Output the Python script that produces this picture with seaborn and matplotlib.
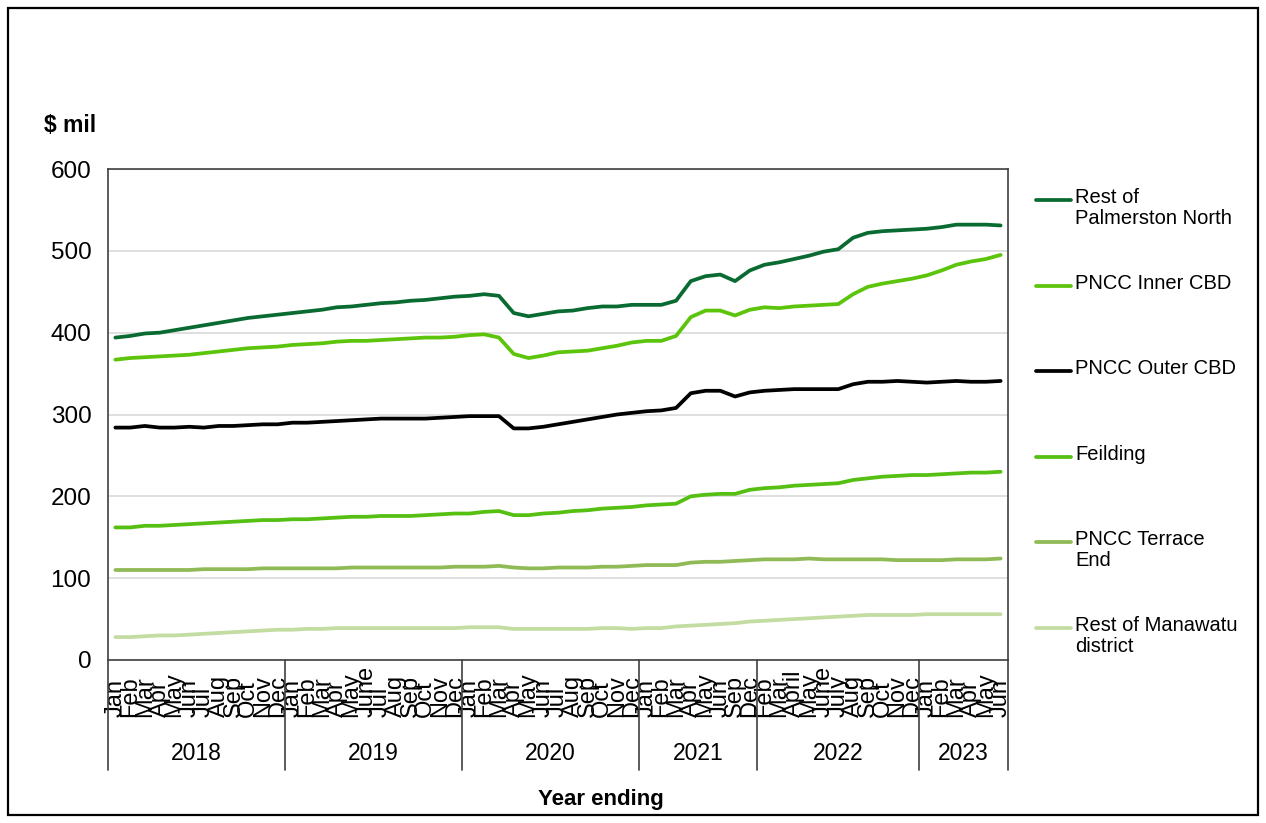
import numpy as np
import pandas as pd
import matplotlib
matplotlib.use("Agg")
import matplotlib.pyplot as plt
import matplotlib.transforms as mtransforms
from matplotlib.lines import Line2D
from matplotlib.patches import Rectangle
import seaborn as sns

# ---- category axis: year ending, month ----
year_labels = ["2018", "2019", "2020", "2021", "2022", "2023"]
months_2018 = ["Jan", "Feb", "Mar", "Apr", "May", "Jun", "Jul", "Aug", "Sep", "Oct", "Nov", "Dec"]
months_2019 = ["Jan", "Feb", "Mar", "Apr", "May", "June", "Jul", "Aug", "Sep", "Oct", "Nov", "Dec"]
months_2020 = ["Jan", "Feb", "Mar", "Apr", "May", "Jun", "Jul", "Aug", "Sep", "Oct", "Nov", "Dec"]
months_2021 = ["Jan", "Feb", "Mar", "Apr", "May", "Jun", "Sep", "Dec"]
months_2022 = ["Feb", "Mar", "April", "May", "June", "July", "Aug", "Sep", "Oct", "Nov", "Dec"]
months_2023 = ["Jan", "Feb", "Mar", "Apr", "May", "Jun"]
month_groups = [months_2018, months_2019, months_2020, months_2021, months_2022, months_2023]

# ---- series ($ mil) ----
rest_of_palmerston_north = [
    394, 396, 399, 400, 403, 406, 409, 412, 415, 418, 420, 422,
    424, 426, 428, 431, 432, 434, 436, 437, 439, 440, 442, 444,
    445, 447, 445, 424, 420, 423, 426, 427, 430, 432, 432, 434,
    434, 434, 439, 463, 469, 471, 463, 476,
    483, 486, 490, 494, 499, 502, 516, 522, 524, 525, 526,
    527, 529, 532, 532, 532, 531]
pncc_inner_cbd = [
    367, 369, 370, 371, 372, 373, 375, 377, 379, 381, 382, 383,
    385, 386, 387, 389, 390, 390, 391, 392, 393, 394, 394, 395,
    397, 398, 394, 374, 369, 372, 376, 377, 378, 381, 384, 388,
    390, 390, 396, 419, 427, 427, 421, 428,
    431, 430, 432, 433, 434, 435, 447, 456, 460, 463, 466,
    470, 476, 483, 487, 490, 495]
pncc_outer_cbd = [
    284, 284, 286, 284, 284, 285, 284, 286, 286, 287, 288, 288,
    290, 290, 291, 292, 293, 294, 295, 295, 295, 295, 296, 297,
    298, 298, 298, 283, 283, 285, 288, 291, 294, 297, 300, 302,
    304, 305, 308, 326, 329, 329, 322, 327,
    329, 330, 331, 331, 331, 331, 337, 340, 340, 341, 340,
    339, 340, 341, 340, 340, 341]
feilding = [
    162, 162, 164, 164, 165, 166, 167, 168, 169, 170, 171, 171,
    172, 172, 173, 174, 175, 175, 176, 176, 176, 177, 178, 179,
    179, 181, 182, 177, 177, 179, 180, 182, 183, 185, 186, 187,
    189, 190, 191, 200, 202, 203, 203, 208,
    210, 211, 213, 214, 215, 216, 220, 222, 224, 225, 226,
    226, 227, 228, 229, 229, 230]
pncc_terrace_end = [
    110, 110, 110, 110, 110, 110, 111, 111, 111, 111, 112, 112,
    112, 112, 112, 112, 113, 113, 113, 113, 113, 113, 113, 114,
    114, 114, 115, 113, 112, 112, 113, 113, 113, 114, 114, 115,
    116, 116, 116, 119, 120, 120, 121, 122,
    123, 123, 123, 124, 123, 123, 123, 123, 123, 122, 122,
    122, 122, 123, 123, 123, 124]
rest_of_manawatu_district = [
    28, 28, 29, 30, 30, 31, 32, 33, 34, 35, 36, 37,
    37, 38, 38, 39, 39, 39, 39, 39, 39, 39, 39, 39,
    40, 40, 40, 38, 38, 38, 38, 38, 38, 39, 39, 38,
    39, 39, 41, 42, 43, 44, 45, 47,
    48, 49, 50, 51, 52, 53, 54, 55, 55, 55, 55,
    56, 56, 56, 56, 56, 56]

series_names = ["Rest of\nPalmerston North", "PNCC Inner CBD", "PNCC Outer CBD",
                "Feilding", "PNCC Terrace\nEnd", "Rest of Manawatu\ndistrict"]
series_values = [rest_of_palmerston_north, pncc_inner_cbd, pncc_outer_cbd,
                 feilding, pncc_terrace_end, rest_of_manawatu_district]
series_colors = ["#0A6B32", "#5CC40A", "#000000", "#55BF12", "#8FBA55", "#C3DCA2"]

month_labels = [m for grp in month_groups for m in grp]
n = len(month_labels)
positions = np.arange(n)

frames = []
for name, vals in zip(series_names, series_values):
    frames.append(pd.DataFrame({"pos": positions, "value": vals, "series": name}))
df = pd.concat(frames, ignore_index=True)

sns.set_theme(style="white")
plt.rcParams["font.family"] = ["Liberation Sans", "DejaVu Sans"]
plt.rcParams["text.color"] = "black"
plt.rcParams["xtick.color"] = "black"
plt.rcParams["ytick.color"] = "black"

fig = plt.figure(figsize=(12.66, 8.23), dpi=100)
ax = fig.add_axes([108 / 1266, 1 - 660 / 823, 900 / 1266, 491 / 823])

sns.lineplot(data=df, x="pos", y="value", hue="series", hue_order=series_names,
             palette=dict(zip(series_names, series_colors)), linewidth=2.7,
             legend=False, ax=ax, zorder=3)

ax.set_xlim(-0.5, n - 0.5)
ax.set_ylim(0, 600)
ax.set_yticks(range(0, 601, 100))
ax.yaxis.grid(True, color="#D9D9D9", linewidth=1.2)
ax.xaxis.grid(False)
ax.tick_params(axis="y", length=0, pad=12, labelsize=17.5, labelcolor="black")
ax.set_xticks(positions)
ax.set_xticklabels(month_labels, rotation=90, fontsize=17, va="bottom")
# month names start from a common line just above the year row
ax.tick_params(axis="x", length=0, pad=41, labelcolor="black")
ax.set_xlabel("")
ax.set_ylabel("")
for sp in ax.spines.values():
    sp.set_color("#404040")
    sp.set_linewidth(1.2)

# year grouping row below the month labels
trans = mtransforms.blended_transform_factory(ax.transData, ax.transAxes)
row_bottom = -110 / 491
boundaries = [-0.5]
for grp in month_groups:
    boundaries.append(boundaries[-1] + len(grp))
for b in boundaries:
    ax.add_line(Line2D([b, b], [0, row_bottom], transform=trans, color="#404040",
                       linewidth=1.2, clip_on=False))
for lbl, start, end in zip(year_labels, boundaries[:-1], boundaries[1:]):
    ax.text((start + end) / 2, -94 / 491, lbl, transform=trans, ha="center",
            va="center", fontsize=16.5, color="black")

fig.text(601 / 1266, 1 - 800 / 823, "Year ending", ha="center", va="center",
         fontsize=16, fontweight="bold", color="black")
fig.text(44 / 1266, 1 - 125 / 823, "$ mil", ha="left", va="center",
         fontsize=16.5, fontweight="bold", color="black")

# legend on the right
legend_y = [200, 286, 371, 457, 542, 628]
for name, color, yy in zip(series_names, series_colors, legend_y):
    fig.add_artist(Line2D([1036 / 1266, 1071 / 1266], [1 - yy / 823, 1 - yy / 823],
                          color=color, linewidth=2.7))
    fig.text(1075 / 1266, 1 - (yy - 12) / 823, name, ha="left", va="top",
             fontsize=14.5, linespacing=1.1, color="black")

# outer frame
fig.add_artist(Rectangle((8 / 1266, 8 / 823), 1250 / 1266, 807 / 823,
                         transform=fig.transFigure, fill=False,
                         edgecolor="#000000", linewidth=1.6))

fig.savefig("out.png", dpi=100)
